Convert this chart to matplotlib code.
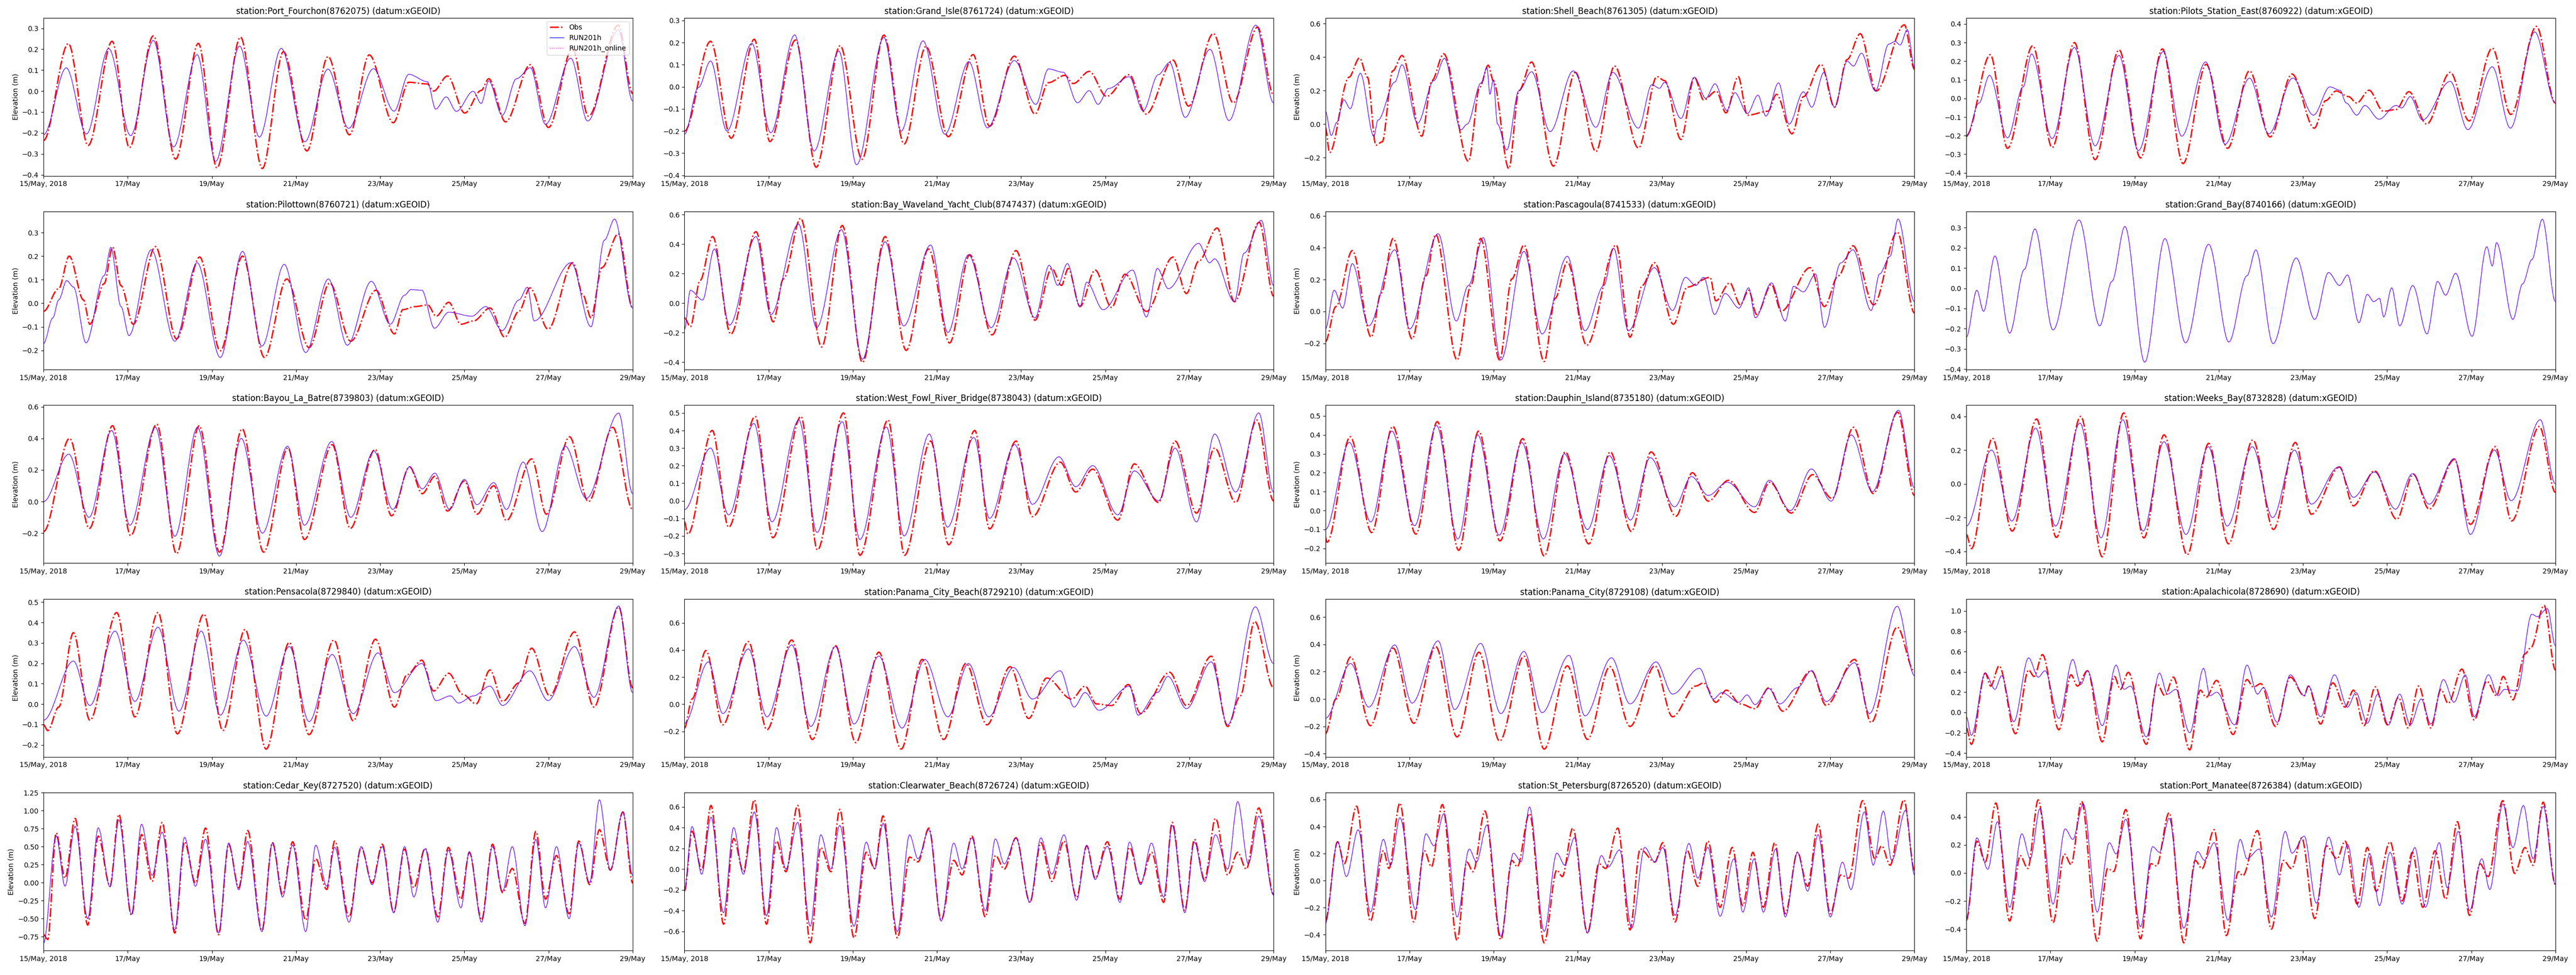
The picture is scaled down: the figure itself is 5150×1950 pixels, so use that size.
import matplotlib
matplotlib.use("Agg")
import matplotlib.pyplot as plt
import matplotlib.dates as mdates
from matplotlib.path import Path
from matplotlib.patches import PathPatch
import pandas as pd

# Water level comparison, 15-29 May 2018: observed vs RUN201h at 20 stations.
# Each series is a list of (day since 15 May 00:00, elevation m) read off the plot,
# mostly the highs and lows of each tide.

start = pd.Timestamp("2018-05-15")
n_days = 14

fourchon_obs = [(0, -0.236), (0.59, 0.227), (1.06, -0.26), (1.63, 0.238), (2.04, -0.27), (2.61, 0.264),
                (3.14, -0.325), (3.68, 0.228), (4.12, -0.367), (4.68, 0.258), (5.2, -0.37), (5.7, 0.188),
                (6.26, -0.286), (6.76, 0.165), (7.27, -0.209), (7.74, 0.173), (8.31, -0.151), (8.68, 0.042),
                (9.12, 0.034), (9.27, 0.0), (9.6, 0.072), (10.01, -0.105), (10.4, 0.003), (10.58, 0.059),
                (10.98, -0.147), (11.57, 0.126), (12.0, -0.174), (12.57, 0.204), (12.95, -0.12),
                (13.66, 0.315), (14.0, -0.012)]
fourchon_mod = [(0, -0.209), (0.54, 0.111), (1.02, -0.205), (1.55, 0.203), (2.07, -0.213), (2.61, 0.242),
                (3.09, -0.267), (3.65, 0.174), (4.09, -0.336), (4.66, 0.215), (5.13, -0.22), (5.65, 0.204),
                (6.21, -0.242), (6.76, 0.105), (7.25, -0.178), (7.84, 0.107), (8.33, -0.096), (8.68, 0.08),
                (9.12, 0.045), (9.32, -0.086), (9.57, -0.028), (9.81, -0.097), (10.21, -0.001), (10.4, -0.059),
                (10.58, 0.049), (10.9, -0.116), (11.24, 0.059), (11.57, 0.111), (11.93, -0.159),
                (12.53, 0.157), (12.93, -0.143), (13.66, 0.292), (14.0, -0.047)]

grandisle_obs = [(0, -0.2), (0.62, 0.206), (1.11, -0.232), (1.66, 0.215), (2.03, -0.247), (2.64, 0.212),
                 (3.13, -0.363), (3.7, 0.186), (4.22, -0.327), (4.74, 0.234), (5.22, -0.258), (5.74, 0.183),
                 (6.27, -0.225), (6.86, 0.146), (7.25, -0.178), (7.84, 0.139), (8.33, -0.123), (8.65, 0.019),
                 (9.04, 0.052), (9.24, 0.015), (9.62, 0.07), (10.03, -0.043), (10.57, 0.055), (10.97, -0.123),
                 (11.61, 0.121), (11.98, -0.087), (12.57, 0.241), (13.04, -0.072), (13.62, 0.27),
                 (14.0, -0.036)]
grandisle_mod = [(0, -0.214), (0.33, -0.003), (0.62, 0.117), (1.01, -0.2), (1.6, 0.197), (2.05, -0.207),
                 (2.62, 0.235), (3.08, -0.29), (3.67, 0.162), (4.09, -0.352), (4.74, 0.223), (5.15, -0.2),
                 (5.67, 0.208), (6.19, -0.214), (6.76, 0.114), (7.2, -0.185), (7.84, 0.119), (8.35, -0.079),
                 (8.65, 0.081), (9.0, 0.066), (9.34, -0.072), (9.62, -0.017), (9.83, -0.079), (10.08, -0.007),
                 (10.57, 0.046), (10.9, -0.108), (11.26, 0.055), (11.53, 0.11), (11.9, -0.138),
                 (12.49, 0.17), (12.94, -0.152), (13.58, 0.279), (14.0, -0.072)]

shell_obs = [(0, -0.02), (0.1, -0.17), (0.56, 0.28), (0.81, 0.395), (1.0, 0.28), (1.2, -0.126),
             (1.35, -0.106), (1.6, 0.318), (1.82, 0.41), (2.29, -0.072), (2.53, 0.26), (2.81, 0.42),
             (3.4, -0.222), (3.67, 0.222), (3.87, 0.352), (3.99, 0.26), (4.36, -0.266), (4.6, 0.2),
             (4.9, 0.371), (5.42, -0.251), (5.94, 0.309), (6.43, -0.164), (6.87, 0.347), (7.44, -0.143),
             (7.88, 0.284), (8.06, 0.26), (8.45, -0.092), (8.77, 0.28), (8.99, 0.144), (9.29, 0.197),
             (9.52, 0.067), (9.81, 0.284), (10.03, 0.053), (10.52, 0.077), (10.72, 0.178), (11.09, -0.058),
             (11.36, 0.164), (11.78, 0.357), (12.1, 0.101), (12.4, 0.386), (12.71, 0.54), (13.09, 0.198),
             (13.76, 0.593), (14.0, 0.328)]
shell_mod = [(0, 0.077), (0.14, -0.068), (0.27, 0.01), (0.44, 0.145), (0.59, 0.092), (0.83, 0.304),
             (1.15, -0.073), (1.25, 0.024), (1.65, 0.251), (1.82, 0.355), (2.19, 0.005), (2.58, 0.26),
             (2.83, 0.393), (3.22, -0.034), (3.37, 0.0), (3.7, 0.246), (3.84, 0.338), (3.91, 0.178),
             (3.99, 0.265), (4.09, 0.0), (4.31, -0.155), (4.6, 0.2), (4.9, 0.313), (5.34, -0.045),
             (5.89, 0.318), (6.43, -0.019), (6.83, 0.309), (7.44, -0.024), (7.76, 0.236), (7.94, 0.214),
             (8.06, 0.25), (8.45, 0.034), (8.77, 0.28), (9.04, 0.154), (9.26, 0.241), (9.54, 0.082),
             (9.73, 0.188), (10.03, 0.063), (10.28, 0.173), (10.47, 0.048), (10.77, 0.246), (11.02, 0.0),
             (11.36, 0.193), (11.56, 0.101), (11.85, 0.309), (12.1, 0.101), (12.4, 0.376), (12.55, 0.347),
             (12.74, 0.424), (13.07, 0.198), (13.39, 0.478), (13.54, 0.494), (13.66, 0.473),
             (13.83, 0.565), (14.0, 0.338)]

pilots_obs = [(0, -0.2), (0.57, 0.235), (0.98, -0.268), (1.58, 0.283), (2.04, -0.264), (2.57, 0.3),
              (3.06, -0.329), (3.63, 0.261), (4.14, -0.32), (4.66, 0.266), (5.15, -0.35), (5.7, 0.183),
              (6.21, -0.268), (6.73, 0.148), (7.22, -0.207), (7.74, 0.131), (8.27, -0.16), (8.54, -0.012),
              (8.79, 0.04), (9.08, 0.01), (9.28, -0.025), (9.57, 0.044), (9.91, -0.069), (10.21, -0.06),
              (10.52, 0.036), (10.94, -0.138), (11.5, 0.14), (11.95, -0.121), (12.5, 0.27),
              (12.94, -0.086), (13.55, 0.387), (14.0, -0.025)]
pilots_mod = [(0, -0.207), (0.3, -0.025), (0.55, 0.124), (0.98, -0.212), (1.35, 0.062), (1.55, 0.239),
              (2.04, -0.216), (2.57, 0.274), (3.06, -0.255), (3.63, 0.231), (4.09, -0.281), (4.68, 0.252),
              (5.12, -0.203), (5.69, 0.196), (6.15, -0.246), (6.73, 0.109), (7.19, -0.19), (7.76, 0.109),
              (8.25, -0.09), (8.64, 0.062), (8.88, 0.044), (9.03, -0.025), (9.28, -0.09), (9.47, -0.038),
              (9.81, -0.112), (10.21, -0.038), (10.35, -0.051), (10.55, 0.01), (10.84, -0.116),
              (11.5, 0.092), (11.92, -0.168), (12.5, 0.17), (12.93, -0.16), (13.51, 0.357), (14.0, -0.025)]

pilottown_obs = [(0, -0.034), (0.36, 0.062), (0.61, 0.2), (0.95, 0.014), (1.1, -0.089), (1.44, 0.083),
                 (1.64, 0.237), (1.84, 0.075), (2.13, -0.089), (2.66, 0.24), (3.16, -0.151), (3.71, 0.196),
                 (4.2, -0.202), (4.73, 0.2), (5.25, -0.23), (5.78, 0.103), (6.31, -0.188), (6.8, 0.086),
                 (7.3, -0.161), (7.9, 0.055), (8.34, -0.13), (8.54, -0.027), (8.84, -0.014), (9.13, -0.007),
                 (9.33, -0.055), (9.63, 0.004), (9.92, -0.089), (10.22, -0.075), (10.61, -0.02),
                 (10.96, -0.144), (11.3, -0.034), (11.56, 0.065), (11.99, -0.11), (12.58, 0.172),
                 (12.82, 0.035), (13.01, -0.062), (13.27, 0.151), (13.66, 0.295), (14.0, -0.02)]
pilottown_mod = [(0, -0.171), (0.22, -0.062), (0.36, 0.014), (0.55, 0.096), (0.71, 0.069), (1.01, -0.168),
                 (1.44, 0.117), (1.6, 0.237), (1.84, -0.014), (2.03, -0.137), (2.56, 0.227), (3.12, -0.161),
                 (3.65, 0.172), (4.2, -0.23), (4.73, 0.22), (5.19, -0.182), (5.72, 0.165), (6.23, -0.209),
                 (6.77, 0.103), (7.22, -0.178), (7.79, 0.093), (8.24, -0.089), (8.58, 0.034), (8.73, 0.058),
                 (8.99, 0.055), (9.29, -0.106), (9.63, -0.038), (10.18, -0.055), (10.51, -0.014),
                 (10.9, -0.116), (11.3, 0.014), (11.5, 0.068), (11.66, -0.075), (12.54, 0.172),
                 (13.01, -0.1), (13.33, 0.268), (13.57, 0.357), (14.0, -0.02)]

waveland_obs = [(0, -0.1), (0.14, -0.16), (0.37, 0.153), (0.67, 0.451), (1.1, -0.21), (1.7, 0.484),
                (2.11, -0.127), (2.35, 0.164), (2.76, 0.575), (3.26, -0.297), (3.75, 0.526), (4.23, -0.402),
                (4.77, 0.451), (5.27, -0.32), (5.8, 0.367), (6.3, -0.27), (6.78, 0.328), (7.31, -0.215),
                (7.88, 0.356), (8.33, -0.116), (8.73, 0.235), (8.96, 0.12), (9.12, 0.235), (9.4, -0.023),
                (9.76, 0.224), (10.15, -0.029), (10.47, 0.196), (10.98, -0.056), (11.61, 0.312),
                (11.93, 0.065), (12.22, 0.284), (12.66, 0.509), (13.07, 0.01), (13.66, 0.548), (14.0, 0.048)]
waveland_mod = [(0, -0.177), (0.14, 0.087), (0.43, 0.021), (0.71, 0.367), (1.07, -0.149), (1.7, 0.451),
                (2.05, -0.078), (2.71, 0.537), (3.14, -0.166), (3.73, 0.498), (4.23, -0.38), (4.77, 0.416),
                (5.21, -0.155), (5.85, 0.394), (6.26, -0.199), (6.75, 0.328), (7.29, -0.166), (7.82, 0.306),
                (8.33, -0.1), (8.67, 0.257), (8.87, 0.12), (9.1, 0.268), (9.4, -0.023), (9.56, 0.142),
                (9.95, -0.045), (10.65, 0.224), (10.98, -0.094), (11.24, 0.235), (11.5, 0.098),
                (12.22, 0.405), (12.48, 0.273), (12.6, 0.3), (13.07, 0.01), (13.3, 0.339), (13.71, 0.561),
                (14.0, 0.12)]

pascagoula_obs = [(0, -0.19), (0.25, 0.031), (0.64, 0.382), (1.09, -0.161), (1.32, 0.113), (1.61, 0.458),
                  (2.06, -0.172), (2.39, 0.224), (2.62, 0.483), (3.13, -0.304), (3.46, 0.163), (3.69, 0.458),
                  (4.14, -0.304), (4.43, 0.204), (4.72, 0.417), (5.2, -0.314), (5.46, 0.082), (5.75, 0.311),
                  (6.21, -0.212), (6.91, 0.417), (7.24, -0.161), (7.53, 0.163), (7.82, 0.306), (8.27, -0.08),
                  (8.6, 0.153), (9.14, 0.214), (9.28, 0.067), (9.61, 0.179), (9.86, 0.042), (10.06, 0.133),
                  (10.25, -0.019), (10.6, 0.169), (10.83, 0.001), (11.52, 0.275), (11.86, 0.031),
                  (12.19, 0.224), (12.54, 0.412), (13.03, 0.042), (13.59, 0.498), (14.0, -0.009)]
pascagoula_mod = [(0, -0.11), (0.21, 0.133), (0.41, 0.021), (0.64, 0.3), (1.03, -0.09), (1.65, 0.387),
                  (2.0, -0.11), (2.68, 0.488), (3.11, -0.06), (3.4, 0.163), (3.75, 0.463), (4.17, -0.304),
                  (4.72, 0.377), (5.15, -0.141), (5.75, 0.346), (6.17, -0.121), (6.62, 0.163), (6.85, 0.397),
                  (7.2, -0.121), (7.82, 0.275), (8.25, 0.006), (8.56, 0.214), (8.8, 0.163), (8.99, 0.214),
                  (9.25, -0.019), (9.5, 0.113), (9.83, 0.021), (10.06, 0.148), (10.22, -0.04), (10.6, 0.179),
                  (10.93, -0.06), (11.13, 0.158), (11.36, 0.123), (11.65, 0.235), (11.86, -0.1),
                  (12.25, 0.305), (12.54, 0.387), (12.97, 0.006), (13.17, 0.235), (13.42, 0.346),
                  (13.61, 0.58), (14.0, 0.062)]

grandbay_obs = []
grandbay_mod = [(0, -0.242), (0.25, -0.01), (0.41, -0.114), (0.68, 0.16), (1.03, -0.222), (1.38, 0.094),
                (1.63, 0.294), (2.06, -0.206), (2.68, 0.338), (3.17, -0.186), (3.46, 0.034), (3.77, 0.306),
                (4.24, -0.366), (4.72, 0.246), (5.21, -0.27), (5.76, 0.218), (6.24, -0.266), (6.67, 0.062),
                (6.88, 0.19), (7.29, -0.274), (7.84, 0.15), (8.28, -0.154), (8.61, 0.078), (8.87, 0.014),
                (9.06, 0.066), (9.33, -0.17), (9.53, -0.03), (9.68, -0.066), (9.82, -0.05), (9.92, -0.142),
                (10.11, 0.002), (10.3, -0.186), (10.61, 0.014), (10.95, -0.226), (11.2, 0.034),
                (11.39, -0.034), (11.63, 0.074), (12.02, -0.238), (12.37, 0.206), (12.5, 0.11),
                (12.6, 0.226), (12.99, -0.154), (13.22, 0.022), (13.44, 0.142), (13.69, 0.342),
                (14.0, -0.066)]

bayou_obs = [(0, -0.19), (0.62, 0.40), (1.09, -0.17), (1.64, 0.48), (2.07, -0.215), (2.69, 0.49),
             (3.16, -0.33), (3.70, 0.48), (4.18, -0.32), (4.72, 0.46), (5.23, -0.32), (5.81, 0.34),
             (6.20, -0.24), (6.86, 0.36), (7.29, -0.17), (7.88, 0.33), (8.27, -0.09), (8.7, 0.22),
             (9.0, 0.05), (9.3, 0.16), (9.6, -0.06), (10.0, 0.13), (10.3, -0.08), (10.7, 0.10),
             (11.0, -0.12), (11.6, 0.27), (11.95, -0.08), (12.5, 0.41), (12.95, 0.0), (13.53, 0.47),
             (14.0, -0.05)]
bayou_mod = [(0, 0.0), (0.6, 0.30), (1.08, -0.10), (1.62, 0.45), (2.05, -0.15), (2.66, 0.47), (3.12, -0.22),
             (3.66, 0.47), (4.18, -0.345), (4.7, 0.40), (5.2, -0.20), (5.8, 0.35), (6.2, -0.15),
             (6.85, 0.38), (7.3, -0.10), (7.85, 0.32), (8.3, -0.05), (8.7, 0.22), (9.0, 0.08), (9.3, 0.18),
             (9.65, -0.05), (10.0, 0.14), (10.3, -0.02), (10.7, 0.12), (11.0, -0.05), (11.4, 0.25),
             (11.85, -0.19), (12.4, 0.35), (12.9, 0.02), (13.67, 0.56), (14.0, 0.05)]

fowl_obs = [(0, -0.12), (0.08, -0.19), (0.66, 0.40), (1.05, -0.15), (1.68, 0.48), (2.10, -0.21),
            (2.77, 0.48), (3.16, -0.28), (3.78, 0.50), (4.17, -0.31), (4.84, 0.46), (5.23, -0.31),
            (5.85, 0.34), (6.28, -0.25), (6.90, 0.40), (7.25, -0.16), (7.88, 0.34), (8.27, -0.09),
            (8.93, 0.22), (9.3, 0.05), (9.7, 0.18), (10.3, -0.11), (10.69, 0.21), (11.27, -0.01),
            (11.66, 0.34), (12.17, -0.07), (12.6, 0.30), (13.1, -0.01), (13.6, 0.46), (14.0, 0.0)]
fowl_mod = [(0, -0.05), (0.62, 0.30), (1.05, -0.08), (1.65, 0.44), (2.08, -0.12), (2.72, 0.46),
            (3.15, -0.18), (3.75, 0.45), (4.17, -0.22), (4.8, 0.42), (5.22, -0.2), (5.82, 0.38),
            (6.25, -0.15), (6.88, 0.36), (7.25, -0.10), (7.85, 0.32), (8.27, -0.02), (8.9, 0.25),
            (9.3, 0.08), (9.7, 0.20), (10.3, -0.08), (10.69, 0.17), (11.27, 0.0), (11.66, 0.30),
            (12.17, -0.12), (12.6, 0.38), (13.1, 0.05), (13.65, 0.50), (14.0, 0.05)]

dauphin_obs = [(0, -0.14), (0.04, -0.167), (0.59, 0.39), (1.10, -0.116), (1.60, 0.445), (2.15, -0.124),
               (2.66, 0.47), (3.17, -0.21), (3.64, 0.42), (4.15, -0.16), (4.69, 0.38), (5.20, -0.24),
               (5.70, 0.31), (6.26, -0.176), (6.77, 0.31), (7.27, -0.11), (7.74, 0.31), (8.33, -0.03),
               (8.72, 0.20), (9.1, 0.05), (9.58, 0.16), (10.2, -0.01), (10.56, 0.15), (11.07, -0.013),
               (11.58, 0.19), (12.04, 0.064), (12.55, 0.44), (13.02, 0.09), (13.6, 0.52), (14.0, 0.08)]
dauphin_mod = [(0, -0.10), (0.57, 0.36), (1.08, -0.06), (1.58, 0.42), (2.12, -0.08), (2.64, 0.45),
               (3.15, -0.15), (3.62, 0.40), (4.13, -0.13), (4.67, 0.36), (5.18, -0.15), (5.68, 0.30),
               (6.23, -0.10), (6.75, 0.29), (7.25, -0.05), (7.72, 0.28), (8.3, 0.02), (8.7, 0.18),
               (9.1, 0.08), (9.55, 0.15), (10.2, 0.02), (10.55, 0.16), (11.05, 0.0), (11.55, 0.22),
               (12.02, 0.05), (12.5, 0.40), (13.0, 0.10), (13.62, 0.53), (14.0, 0.12)]

weeks_obs = [(0, -0.30), (0.12, -0.384), (0.62, 0.27), (1.09, -0.28), (1.67, 0.384), (2.14, -0.317),
             (2.72, 0.40), (3.23, -0.432), (3.74, 0.42), (4.22, -0.32), (4.70, 0.29), (5.25, -0.42),
             (5.76, 0.24), (6.23, -0.355), (6.81, 0.26), (7.30, -0.27), (7.82, 0.245), (8.2, -0.18),
             (8.87, 0.10), (9.2, -0.13), (9.7, 0.077), (10.23, -0.21), (10.62, 0.058), (11.0, -0.15),
             (11.6, 0.144), (11.98, -0.24), (12.57, 0.22), (12.96, -0.22), (13.62, 0.34), (14.0, -0.05)]
weeks_mod = [(0, -0.25), (0.6, 0.20), (1.08, -0.22), (1.65, 0.33), (2.12, -0.25), (2.7, 0.36), (3.2, -0.32),
             (3.72, 0.38), (4.2, -0.28), (4.7, 0.25), (5.22, -0.30), (5.75, 0.22), (6.2, -0.25), (6.8, 0.22),
             (7.28, -0.20), (7.8, 0.20), (8.2, -0.12), (8.85, 0.10), (9.2, -0.08), (9.7, 0.07),
             (10.2, -0.15), (10.6, 0.06), (11.0, -0.12), (11.6, 0.15), (11.98, -0.30), (12.55, 0.20),
             (12.95, -0.10), (13.64, 0.38), (14.0, 0.0)]

pensacola_obs = [(0, -0.102), (0.1, -0.13), (0.36, -0.015), (0.71, 0.35), (1.1, -0.079), (1.74, 0.449),
                 (2.17, -0.063), (2.72, 0.449), (3.18, -0.146), (3.81, 0.441), (4.26, -0.13), (4.79, 0.366),
                 (5.29, -0.221), (5.84, 0.302), (6.31, -0.15), (6.9, 0.314), (7.36, -0.082), (7.89, 0.318),
                 (8.34, -0.015), (8.64, 0.144), (8.99, 0.215), (9.27, 0.064), (9.63, 0.151), (9.96, 0.048),
                 (10.28, 0.001), (10.61, 0.167), (10.91, 0.013), (11.3, 0.104), (11.6, 0.274),
                 (12.03, 0.04), (12.62, 0.354), (13.08, -0.015), (13.67, 0.477), (14.0, 0.08)]
pensacola_mod = [(0, -0.079), (0.71, 0.211), (1.1, -0.007), (1.7, 0.358), (2.17, 0.013), (2.72, 0.377),
                 (3.22, -0.035), (3.75, 0.358), (4.2, -0.055), (4.75, 0.314), (5.29, -0.059), (5.84, 0.282),
                 (6.31, -0.086), (6.86, 0.243), (7.36, -0.047), (7.95, 0.251), (8.34, 0.056), (8.99, 0.199),
                 (9.33, 0.017), (9.67, 0.04), (9.86, 0.005), (10.22, 0.04), (10.61, 0.088), (10.91, -0.007),
                 (11.56, 0.163), (11.99, 0.017), (12.62, 0.282), (13.08, 0.033), (13.67, 0.481),
                 (14.0, 0.056)]

pcbeach_obs = [(0, -0.176), (0.18, 0.038), (0.51, 0.395), (0.91, -0.152), (1.52, 0.461), (1.96, -0.188),
               (2.55, 0.473), (3.04, -0.26), (3.59, 0.431), (4.07, -0.283), (4.62, 0.383), (5.15, -0.331),
               (5.65, 0.33), (6.16, -0.26), (6.69, 0.3), (7.19, -0.152), (7.74, 0.276), (8.18, -0.105),
               (8.61, 0.193), (9.2, 0.038), (9.52, 0.133), (9.79, 0.002), (10.15, -0.01), (10.55, 0.145),
               (10.84, -0.069), (11.53, 0.235), (11.93, -0.01), (12.52, 0.354), (12.91, -0.164),
               (13.21, 0.062), (13.55, 0.61), (14.0, 0.121)]
pcbeach_mod = [(0, -0.14), (0.57, 0.312), (0.91, -0.069), (1.52, 0.407), (1.96, -0.093), (2.55, 0.437),
               (3.0, -0.164), (3.59, 0.425), (4.03, -0.146), (4.62, 0.354), (5.17, -0.176), (5.71, 0.33),
               (6.26, -0.093), (6.75, 0.3), (7.23, -0.093), (7.82, 0.27), (8.27, 0.038), (8.93, 0.246),
               (9.26, -0.021), (9.52, 0.086), (9.85, -0.045), (10.58, 0.133), (10.78, -0.081),
               (11.24, 0.086), (11.49, 0.205), (11.93, -0.033), (12.52, 0.312), (12.91, -0.152),
               (13.57, 0.717), (14.0, 0.3)]

pcity_obs = [(0, -0.254), (0.25, 0.0), (0.6, 0.308), (1.07, -0.195), (1.61, 0.373), (2.1, -0.178),
             (2.62, 0.385), (3.13, -0.278), (3.65, 0.343), (4.14, -0.308), (4.72, 0.314), (5.2, -0.367),
             (5.75, 0.243), (6.23, -0.296), (6.76, 0.237), (7.24, -0.201), (7.83, 0.243), (8.25, -0.13),
             (8.8, 0.095), (8.99, 0.118), (9.28, -0.024), (9.53, 0.065), (9.86, -0.036), (10.21, -0.071),
             (10.54, 0.083), (10.87, -0.089), (11.55, 0.207), (11.9, -0.047), (12.58, 0.29),
             (12.97, -0.172), (13.59, 0.527), (14.0, 0.201)]
pcity_mod = [(0, -0.142), (0.6, 0.26), (1.03, -0.059), (1.65, 0.396), (2.06, -0.03), (2.68, 0.426),
             (3.07, -0.077), (3.69, 0.408), (4.17, -0.107), (4.72, 0.349), (5.15, -0.1), (5.79, 0.32),
             (6.17, -0.124), (6.8, 0.302), (7.24, -0.036), (7.86, 0.272), (8.25, 0.036), (8.89, 0.225),
             (9.22, 0.0), (9.42, 0.047), (9.83, -0.024), (10.02, 0.03), (10.21, -0.041), (10.54, 0.077),
             (10.8, -0.036), (11.22, 0.083), (11.55, 0.207), (11.9, -0.018), (12.58, 0.266),
             (12.93, -0.107), (13.59, 0.68), (14.0, 0.172)]

apalach_obs = [(0, -0.153), (0.12, -0.313), (0.45, 0.388), (0.58, 0.26), (0.78, 0.459), (1.17, -0.209),
               (1.48, 0.419), (1.61, 0.355), (1.81, 0.57), (2.2, -0.17), (2.49, 0.371), (2.64, 0.26),
               (2.88, 0.411), (3.23, -0.289), (3.52, 0.355), (3.66, 0.228), (3.85, 0.395), (4.28, -0.313),
               (4.53, 0.284), (4.72, 0.165), (4.92, 0.348), (5.31, -0.368), (5.56, 0.22), (5.7, 0.15),
               (5.95, 0.316), (6.34, -0.217), (6.67, 0.324), (6.82, 0.25), (7.0, 0.284), (7.35, -0.138),
               (7.7, 0.348), (8.03, 0.165), (8.13, 0.26), (8.42, -0.114), (8.71, 0.292), (9.0, 0.053),
               (9.2, 0.22), (9.45, -0.13), (9.72, 0.252), (10.01, -0.122), (10.27, 0.149), (10.5, -0.153),
               (10.75, 0.26), (11.04, -0.153), (11.28, 0.228), (11.45, 0.09), (11.78, 0.427),
               (12.07, -0.074), (12.37, 0.308), (12.6, 0.165), (12.76, 0.355), (12.99, 0.125),
               (13.28, 0.578), (13.42, 0.642), (13.73, 1.055), (14.0, 0.419)]
apalach_mod = [(0, -0.042), (0.12, -0.225), (0.45, 0.388), (0.68, 0.228), (0.84, 0.363), (1.13, -0.09),
               (1.48, 0.538), (1.71, 0.348), (1.87, 0.411), (2.2, -0.058), (2.53, 0.522), (2.72, 0.276),
               (2.88, 0.411), (3.23, -0.13), (3.56, 0.467), (3.75, 0.228), (3.9, 0.26), (4.28, -0.241),
               (4.59, 0.388), (4.78, 0.181), (4.98, 0.228), (5.31, -0.2), (5.64, 0.435), (5.79, 0.165),
               (5.95, 0.2), (6.38, -0.122), (6.67, 0.467), (6.92, 0.181), (7.06, 0.244), (7.39, -0.098),
               (7.7, 0.371), (8.03, 0.165), (8.13, 0.26), (8.42, -0.042), (8.75, 0.371), (9.06, 0.053),
               (9.26, 0.197), (9.53, -0.106), (9.78, 0.181), (10.03, -0.122), (10.3, 0.181),
               (10.55, -0.122), (10.81, 0.133), (11.04, -0.114), (11.34, 0.324), (11.59, 0.101),
               (11.86, 0.371), (12.07, -0.042), (12.41, 0.371), (12.64, 0.165), (12.79, 0.228),
               (13.09, 0.212), (13.44, 0.968), (13.57, 0.944), (13.81, 1.023), (14.0, 0.658)]

cedar_obs = [(0, -0.723), (0.1, -0.79), (0.3, 0.69), (0.51, 0.062), (0.75, 0.89), (1.05, -0.589),
             (1.3, 0.645), (1.58, -0.05), (1.79, 0.947), (2.09, -0.454), (2.33, 0.667), (2.58, 0.017),
             (2.82, 0.835), (3.12, -0.7), (3.35, 0.566), (3.61, -0.005), (3.85, 0.757), (4.16, -0.723),
             (4.4, 0.532), (4.64, -0.072), (4.85, 0.723), (5.19, -0.667), (5.44, 0.555), (5.68, -0.162),
             (5.92, 0.566), (6.23, -0.521), (6.47, 0.331), (6.73, -0.095), (6.92, 0.577), (7.26, -0.477),
             (7.55, 0.488), (7.81, -0.005), (8.05, 0.532), (8.32, -0.41), (8.58, 0.465), (8.8, -0.072),
             (9.07, 0.476), (9.37, -0.477), (9.62, 0.488), (9.92, -0.23), (10.12, 0.42), (10.41, -0.521),
             (10.67, 0.532), (10.91, -0.14), (11.14, 0.196), (11.44, -0.566), (11.7, 0.711),
             (11.93, -0.23), (12.19, 0.376), (12.49, -0.432), (12.72, 0.577), (12.98, -0.028),
             (13.21, 0.734), (13.47, 0.174), (13.77, 0.98), (14.0, -0.005)]
cedar_mod = [(0, -0.84), (0.3, 0.65), (0.51, -0.05), (0.75, 0.78), (1.05, -0.5), (1.3, 0.76), (1.58, -0.06),
             (1.79, 0.87), (2.09, -0.44), (2.33, 0.81), (2.58, 0.1), (2.82, 0.7), (3.12, -0.66),
             (3.35, 0.63), (3.61, -0.05), (3.85, 0.6), (4.16, -0.7), (4.4, 0.55), (4.64, -0.1), (4.85, 0.57),
             (5.19, -0.68), (5.44, 0.55), (5.68, -0.2), (5.92, 0.52), (6.23, -0.68), (6.47, 0.52),
             (6.73, -0.05), (6.92, 0.49), (7.26, -0.55), (7.55, 0.5), (7.81, -0.03), (8.05, 0.5),
             (8.32, -0.42), (8.58, 0.5), (8.8, -0.2), (9.07, 0.47), (9.37, -0.55), (9.62, 0.45),
             (9.92, -0.35), (10.12, 0.43), (10.41, -0.55), (10.67, 0.5), (10.91, -0.12), (11.14, 0.5),
             (11.44, -0.6), (11.7, 0.6), (11.93, -0.35), (12.19, 0.5), (12.49, -0.5), (12.72, 0.55),
             (12.98, 0.0), (13.21, 1.15), (13.47, 0.17), (13.77, 0.98), (14.0, 0.1)]

clearwater_obs = [(0, -0.21), (0.18, 0.364), (0.41, -0.01), (0.63, 0.613), (0.93, -0.53), (1.17, 0.294),
                  (1.4, -0.025), (1.66, 0.667), (1.95, -0.53), (2.19, 0.27), (2.41, -0.025), (2.69, 0.613),
                  (2.99, -0.709), (3.24, 0.208), (3.48, -0.025), (3.69, 0.574), (4.03, -0.662), (4.32, 0.162),
                  (4.52, 0.006), (4.72, 0.512), (5.06, -0.662), (5.35, 0.115), (5.55, 0.07), (5.81, 0.395),
                  (6.1, -0.491), (6.4, 0.084), (6.6, -0.056), (6.83, 0.317), (7.15, -0.46), (7.39, 0.131),
                  (7.6, 0.0), (7.88, 0.302), (8.21, -0.32), (8.47, 0.255), (8.73, -0.118), (9.02, 0.271),
                  (9.32, -0.274), (9.56, 0.224), (9.76, -0.087), (10.05, 0.263), (10.35, -0.289),
                  (10.58, 0.208), (10.84, -0.134), (11.1, 0.162), (11.39, -0.32), (11.59, 0.449),
                  (11.89, -0.398), (12.12, 0.286), (12.36, -0.103), (12.62, 0.488), (12.91, -0.056),
                  (13.15, 0.162), (13.35, 0.0), (13.65, 0.589), (14.0, -0.243)]
clearwater_mod = [(0, -0.2), (0.18, 0.41), (0.41, -0.05), (0.63, 0.5), (0.93, -0.42), (1.17, 0.4),
                  (1.4, -0.05), (1.66, 0.55), (1.95, -0.45), (2.19, 0.4), (2.41, 0.0), (2.69, 0.45),
                  (2.99, -0.55), (3.24, 0.33), (3.48, 0.0), (3.69, 0.42), (4.03, -0.55), (4.32, 0.26),
                  (4.52, 0.0), (4.72, 0.44), (5.06, -0.6), (5.35, 0.33), (5.55, 0.1), (5.81, 0.38),
                  (6.1, -0.5), (6.4, 0.25), (6.6, 0.0), (6.83, 0.3), (7.15, -0.4), (7.39, 0.29), (7.6, 0.05),
                  (7.88, 0.3), (8.21, -0.32), (8.47, 0.3), (8.73, -0.05), (9.02, 0.33), (9.32, -0.3),
                  (9.56, 0.23), (9.76, -0.1), (10.05, 0.22), (10.35, -0.32), (10.58, 0.26), (10.84, -0.15),
                  (11.1, 0.25), (11.39, -0.27), (11.59, 0.42), (11.89, -0.42), (12.12, 0.26), (12.36, -0.12),
                  (12.62, 0.33), (12.91, 0.0), (13.15, 0.65), (13.4, 0.05), (13.65, 0.51), (14.0, -0.25)]

stpete_obs = [(0, -0.293), (0.29, 0.287), (0.45, 0.125), (0.74, 0.55), (1.07, -0.299), (1.38, 0.221),
              (1.51, 0.09), (1.77, 0.573), (2.1, -0.305), (2.35, 0.221), (2.52, 0.102), (2.78, 0.562),
              (3.13, -0.442), (3.36, 0.137), (3.51, 0.066), (3.79, 0.514), (4.17, -0.436), (4.43, 0.149),
              (4.56, 0.102), (4.85, 0.496), (5.2, -0.46), (5.5, 0.078), (5.63, 0.03), (5.88, 0.388),
              (6.23, -0.388), (6.5, 0.125), (6.66, 0.09), (6.95, 0.388), (7.24, -0.364), (7.48, 0.233),
              (7.83, 0.137), (8.02, 0.28), (8.31, -0.305), (8.6, 0.221), (8.85, -0.042), (9.09, 0.293),
              (9.38, -0.197), (9.67, 0.245), (9.92, -0.185), (10.16, 0.209), (10.41, -0.197),
              (10.68, 0.28), (10.93, -0.245), (11.22, 0.209), (11.46, -0.042), (11.71, 0.418),
              (12.0, -0.245), (12.25, 0.042), (12.44, 0.018), (12.77, 0.591), (13.06, 0.161),
              (13.22, 0.257), (13.42, 0.114), (13.75, 0.597), (14.0, 0.078)]
stpete_mod = [(0, -0.317), (0.29, 0.287), (0.5, 0.03), (0.78, 0.376), (1.07, -0.233), (1.38, 0.305),
              (1.55, 0.114), (1.77, 0.466), (2.14, -0.215), (2.39, 0.346), (2.58, 0.257), (2.82, 0.496),
              (3.13, -0.269), (3.42, 0.233), (3.59, 0.137), (3.84, 0.412), (4.17, -0.412), (4.47, 0.203),
              (4.65, 0.14), (4.85, 0.544), (5.2, -0.376), (5.5, 0.203), (5.69, 0.114), (5.92, 0.317),
              (6.23, -0.388), (6.56, 0.185), (6.72, 0.1), (6.99, 0.227), (7.28, -0.352), (7.59, 0.245),
              (7.83, 0.137), (8.02, 0.245), (8.31, -0.257), (8.64, 0.275), (8.85, 0.018), (9.09, 0.245),
              (9.38, -0.263), (9.71, 0.161), (9.92, -0.233), (10.19, 0.161), (10.41, -0.233),
              (10.7, 0.233), (10.93, -0.269), (11.22, 0.209), (11.46, -0.078), (11.71, 0.34),
              (12.0, -0.269), (12.29, 0.137), (12.49, -0.066), (12.81, 0.508), (13.02, 0.114),
              (13.26, 0.514), (13.46, 0.149), (13.79, 0.52), (14.0, 0.042)]

manatee_obs = [(0, -0.337), (0.25, 0.227), (0.45, 0.078), (0.7, 0.498), (1.03, -0.342), (1.28, 0.124),
               (1.46, 0.032), (1.71, 0.521), (2.06, -0.354), (2.33, 0.135), (2.49, 0.06), (2.74, 0.509),
               (3.11, -0.486), (3.36, 0.032), (3.5, 0.01), (3.79, 0.452), (4.14, -0.469), (4.39, 0.066),
               (4.52, 0.05), (4.82, 0.429), (5.17, -0.498), (5.44, 0.089), (5.6, 0.03), (5.89, 0.308),
               (6.18, -0.446), (6.47, 0.009), (6.57, -0.02), (6.92, 0.302), (7.25, -0.4), (7.54, 0.089),
               (7.73, 0.03), (7.97, 0.25), (8.28, -0.325), (8.56, 0.193), (8.81, 0.101), (9.0, 0.227),
               (9.29, -0.222), (9.53, 0.181), (9.74, -0.13), (10.07, 0.222), (10.36, -0.199), (10.6, 0.147),
               (10.85, -0.245), (11.14, 0.158), (11.39, -0.187), (11.67, 0.365), (11.96, -0.302),
               (12.21, 0.066), (12.4, -0.026), (12.75, 0.515), (13.03, -0.003), (13.28, 0.181),
               (13.47, 0.055), (13.71, 0.504), (14.0, -0.083)]
manatee_mod = [(0, -0.325), (0.25, 0.25), (0.51, 0.026), (0.74, 0.365), (1.03, -0.245), (1.32, 0.279),
               (1.52, 0.101), (1.75, 0.458), (2.06, -0.222), (2.35, 0.314), (2.53, 0.239), (2.78, 0.492),
               (3.11, -0.279), (3.4, 0.216), (3.56, 0.135), (3.79, 0.383), (4.14, -0.383), (4.43, 0.187),
               (4.59, 0.147), (4.82, 0.389), (5.17, -0.394), (5.5, 0.153), (5.66, 0.09), (5.89, 0.216),
               (6.22, -0.337), (6.51, 0.239), (6.67, 0.101), (6.96, 0.17), (7.25, -0.314), (7.58, 0.296),
               (7.74, 0.141), (8.03, 0.262), (8.32, -0.216), (8.61, 0.256), (8.87, -0.014), (9.06, 0.204),
               (9.33, -0.245), (9.59, 0.135), (9.82, -0.233), (10.07, 0.147), (10.36, -0.222),
               (10.66, 0.181), (10.91, -0.245), (11.24, 0.216), (11.43, -0.106), (11.69, 0.296),
               (11.96, -0.268), (12.25, 0.101), (12.44, -0.118), (12.75, 0.492), (12.99, 0.181),
               (13.24, 0.481), (13.47, 0.101), (13.71, 0.475), (14.0, -0.083)]

station_names = ["Port_Fourchon(8762075)", "Grand_Isle(8761724)", "Shell_Beach(8761305)",
                 "Pilots_Station_East(8760922)", "Pilottown(8760721)", "Bay_Waveland_Yacht_Club(8747437)",
                 "Pascagoula(8741533)", "Grand_Bay(8740166)", "Bayou_La_Batre(8739803)",
                 "West_Fowl_River_Bridge(8738043)", "Dauphin_Island(8735180)", "Weeks_Bay(8732828)",
                 "Pensacola(8729840)", "Panama_City_Beach(8729210)", "Panama_City(8729108)",
                 "Apalachicola(8728690)", "Cedar_Key(8727520)", "Clearwater_Beach(8726724)",
                 "St_Petersburg(8726520)", "Port_Manatee(8726384)"]

obs_series = [fourchon_obs, grandisle_obs, shell_obs, pilots_obs, pilottown_obs, waveland_obs,
              pascagoula_obs, grandbay_obs, bayou_obs, fowl_obs, dauphin_obs, weeks_obs,
              pensacola_obs, pcbeach_obs, pcity_obs, apalach_obs, cedar_obs, clearwater_obs,
              stpete_obs, manatee_obs]
mod_series = [fourchon_mod, grandisle_mod, shell_mod, pilots_mod, pilottown_mod, waveland_mod,
              pascagoula_mod, grandbay_mod, bayou_mod, fowl_mod, dauphin_mod, weeks_mod,
              pensacola_mod, pcbeach_mod, pcity_mod, apalach_mod, cedar_mod, clearwater_mod,
              stpete_mod, manatee_mod]

# y-range of each panel as shown in the picture
y_limits = [(-0.405, 0.35), (-0.402, 0.312), (-0.309, 0.635), (-0.416, 0.433),
            (-0.281, 0.389), (-0.45, 0.621), (-0.364, 0.627), (-0.402, 0.38),
            (-0.39, 0.61), (-0.355, 0.544), (-0.278, 0.557), (-0.47, 0.466),
            (-0.259, 0.516), (-0.388, 0.776), (-0.424, 0.734), (-0.437, 1.119),
            (-0.943, 1.25), (-0.784, 0.737), (-0.517, 0.651), (-0.553, 0.573)]


def tide_curve(ax, series, **style):
    """Draw the highs/lows as a smooth curve (flat tangent at every listed point)."""
    days = [p[0] for p in series]
    vals = [p[1] for p in series]
    xs = mdates.date2num(start + pd.to_timedelta(days, unit="D"))
    verts = [(xs[0], vals[0])]
    codes = [Path.MOVETO]
    for k in range(1, len(xs)):
        dx = (xs[k] - xs[k - 1]) / 3.0
        verts += [(xs[k - 1] + dx, vals[k - 1]), (xs[k] - dx, vals[k]), (xs[k], vals[k])]
        codes += [Path.CURVE4] * 3
    ax.add_patch(PathPatch(Path(verts, codes), fill=False, **style))


fig, axes = plt.subplots(5, 4, figsize=(51.5, 19.5), dpi=100)
fig.subplots_adjust(left=0.0169, right=0.992, top=0.9817, bottom=0.0251, wspace=0.088, hspace=0.226)

tick_dates = [start + pd.Timedelta(days=d) for d in range(0, n_days + 1, 2)]
tick_labels = [d.strftime("%d/%b") for d in tick_dates]
tick_labels[0] = tick_dates[0].strftime("%d/%b, %Y")

obs_style = dict(edgecolor="red", linestyle="-.", linewidth=2)
mod_style = dict(edgecolor="blue", linestyle="-", linewidth=0.8)
online_style = dict(edgecolor="magenta", linestyle=(0, (2, 2)), linewidth=0.7)

for i, ax in enumerate(axes.flat):
    ax.xaxis_date()
    if obs_series[i]:
        tide_curve(ax, obs_series[i], **obs_style)
    tide_curve(ax, mod_series[i], **mod_style)
    tide_curve(ax, mod_series[i], **online_style)

    ax.set_title("station:" + station_names[i] + " (datum:xGEOID)")
    ax.set_xlim(mdates.date2num(start), mdates.date2num(start + pd.Timedelta(days=n_days)))
    ax.set_ylim(*y_limits[i])
    ax.set_xticks(mdates.date2num(tick_dates))
    ax.set_xticklabels(tick_labels)
    if i % 4 in (0, 2):
        ax.set_ylabel("Elevation (m)")
    if i == 0:
        # legend entries matching the three curve styles
        ax.plot([], [], "r-.", linewidth=2, label="Obs")
        ax.plot([], [], color="blue", linewidth=0.8, label="RUN201h")
        ax.plot([], [], color="magenta", linestyle=(0, (2, 2)), linewidth=0.7, label="RUN201h_online")
        ax.legend(loc="upper right")

fig.savefig("out.png", dpi=100)
